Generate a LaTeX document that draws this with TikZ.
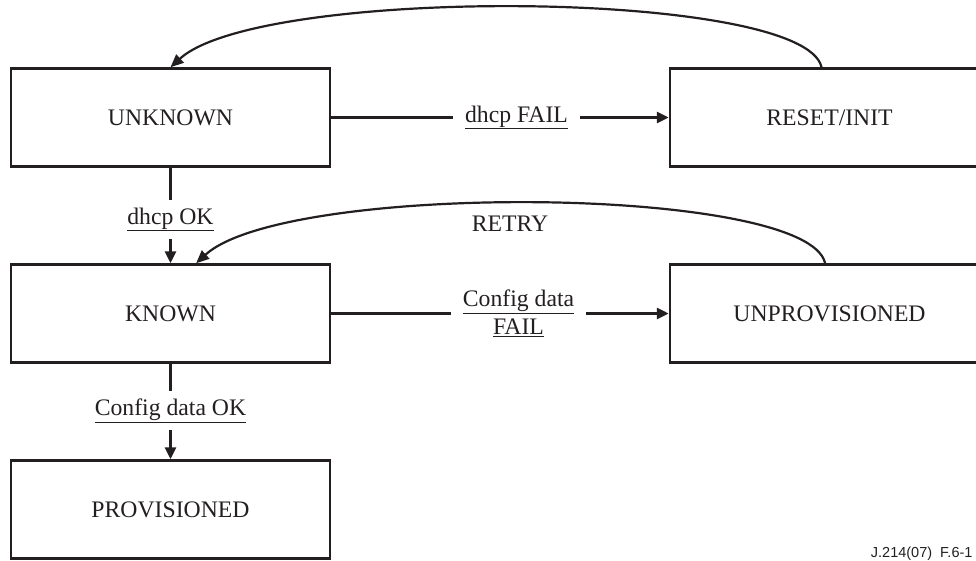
\documentclass[tikz,border=0pt]{standalone}
\usepackage{fontspec}
\setmainfont{Liberation Serif}
\newfontfamily\figfont{Liberation Sans}
\usetikzlibrary{arrows.meta,positioning}
\definecolor{ink}{RGB}{35,31,32}

\begin{document}
\begin{tikzpicture}[
    x=1pt, y=-1pt,
    node distance=659pt,
    statebox/.style={
        rectangle,
        draw=ink,
        line width=2.5pt,
        minimum width=319pt,
        minimum height=98pt,
        text=ink,
        font=\fontsize{23.7}{28}\selectfont
    },
    cond/.style={
        inner xsep=12pt,
        inner ysep=8pt,
        outer sep=0pt,
        align=center,
        text=ink,
        font=\fontsize{23.7}{28}\selectfont
    },
    link/.style={
        draw=ink,
        line width=3pt
    },
    arrow/.style={
        link,
        -{Triangle[length=12pt,width=11pt]}
    },
    backarrow/.style={
        draw=ink,
        line width=2.2pt,
        -{Triangle[length=13pt,width=11pt]}
    }
]
\useasboundingbox (0,0) rectangle (976,560);

% Stati
\node[statebox] (unknown) at (170.5,117.5) {UNKNOWN};
\node[statebox, right of=unknown] (reset) {RESET/INIT};
\node[statebox, below of=unknown, node distance=196pt] (known) {KNOWN};
\node[statebox, right of=known] (unprov) {UNPROVISIONED};
\node[statebox, below of=known, node distance=196pt] (prov) {PROVISIONED};

% Condizioni
\node[cond, right of=unknown, node distance=346pt] (dhcpfail) {\underline{dhcp FAIL}};
\node[cond, below of=unknown, node distance=102pt] (dhcpok) {\underline{dhcp OK}};
\node[cond, right of=known, node distance=348pt] (cfgfail) {\underline{Config data}\\\underline{FAIL}};
\node[cond, below of=known, node distance=97pt] (cfgok) {\underline{Config data OK}};
\node[cond] (retry) at (510,224) {RETRY};

% Transizioni
\draw[link] (unknown) -- (dhcpfail);
\draw[arrow] (dhcpfail) -- (reset);
\draw[link] (unknown) -- (dhcpok);
\draw[arrow] (dhcpok) -- (known);
\draw[link] (known) -- (cfgfail);
\draw[arrow] (cfgfail) -- (unprov);
\draw[link] (known) -- (cfgok);
\draw[arrow] (cfgok) -- (prov);
\draw[backarrow] (reset.99) .. controls +(-17,-78) and +(90,-82) .. (unknown.north);
\draw[backarrow] (unprov.95) .. controls +(-17,-78) and +(90,-82) .. (known.63);

\node[anchor=base east, text=ink, font=\figfont\fontsize{14.5}{17}\selectfont] (figid) at (976,557) {J.214(07)\ \ F.6-1};

\end{tikzpicture}
\end{document}
